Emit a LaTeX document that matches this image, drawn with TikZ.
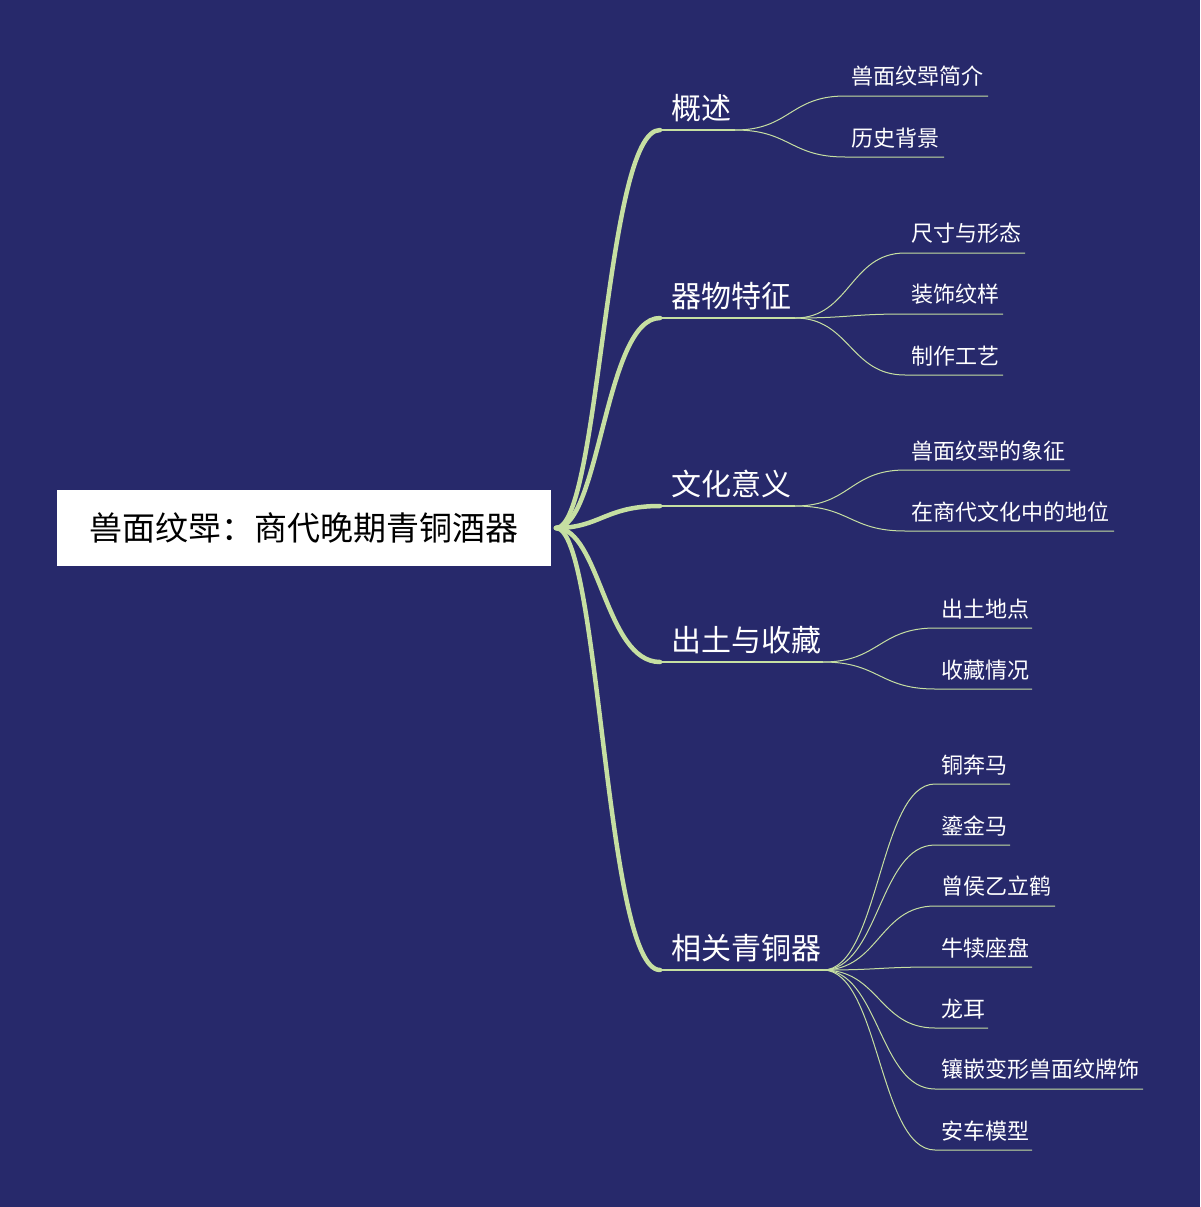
\documentclass[tikz,border=0pt]{standalone}
\usepackage{fontspec}
\newfontfamily\cjk{Noto Sans CJK SC}
\definecolor{bg}{HTML}{27296B}
\definecolor{ln}{HTML}{C6DFA2}
\begin{document}
\begin{tikzpicture}[x=1pt,y=-1pt,
  thick branch/.style={draw=ln,line width=4.5pt,line cap=round},
  thin branch/.style={draw=ln,line width=1.2pt},
  l1/.style={anchor=south west,text=white,font=\cjk\fontsize{30}{32}\selectfont,inner sep=0pt},
  l2/.style={anchor=south west,text=white,font=\cjk\fontsize{22}{24}\selectfont,inner sep=0pt},
  rootbox/.style={fill=white,minimum width=494pt,minimum height=76pt,font=\cjk\fontsize{33}{35}\selectfont,text=black}]
\useasboundingbox[fill=bg] (0,0) rectangle (1200,1207);
\node[rootbox] (root) at (304,528) {兽面纹斝：商代晚期青铜酒器};
\coordinate (r) at (556,528);
\foreach \n/\y/\t/\e in {a/130/概述/735,b/318/器物特征/795,c/506/文化意义/795,d/662/出土与收藏/823,e/970/相关青铜器/823}{
  \coordinate (p\n start) at (660,\y);
  \coordinate (p\n end) at (\e,\y);
  \draw[thick branch] (r) .. controls (600,528) and (605,\y) .. (p\n start);
  \draw[thin branch] (p\n start) -- (p\n end);
  \node[l1] (p\n text) at (671,\y-8) {\t};
}
\foreach \p/\px/\py/\x/\y/\e/\t in {a/735/130/845/96/988/兽面纹斝简介,a/735/130/845/157/944/历史背景,
  b/795/318/905/253/1025/尺寸与形态,b/795/318/905/314/1003/装饰纹样,b/795/318/905/375/1003/制作工艺,
  c/795/506/905/470/1070/兽面纹斝的象征,c/795/506/905/531/1114/在商代文化中的地位,
  d/823/662/935/628/1032/出土地点,d/823/662/935/689/1032/收藏情况,
  e/823/970/935/784/1010/铜奔马,e/823/970/935/845/1010/鎏金马,e/823/970/935/906/1055/曾侯乙立鹤,e/823/970/935/967/1032/牛犊座盘,
  e/823/970/935/1028/988/龙耳,e/823/970/935/1089/1143/镶嵌变形兽面纹牌饰,e/823/970/935/1150/1032/安车模型}{
  \pgfmathsetmacro\mx{(\px+\x)/2}
  \coordinate (kidstart) at (\x,\y);
  \coordinate (kidend) at (\e,\y);
  \draw[draw=ln,line width=1pt] (p\p end) .. controls (\mx,\py) and (\mx,\y) .. (kidstart) -- (kidend);
  \node[l2] at (\x+6,\y-9) {\t};
}
\end{tikzpicture}
\end{document}
